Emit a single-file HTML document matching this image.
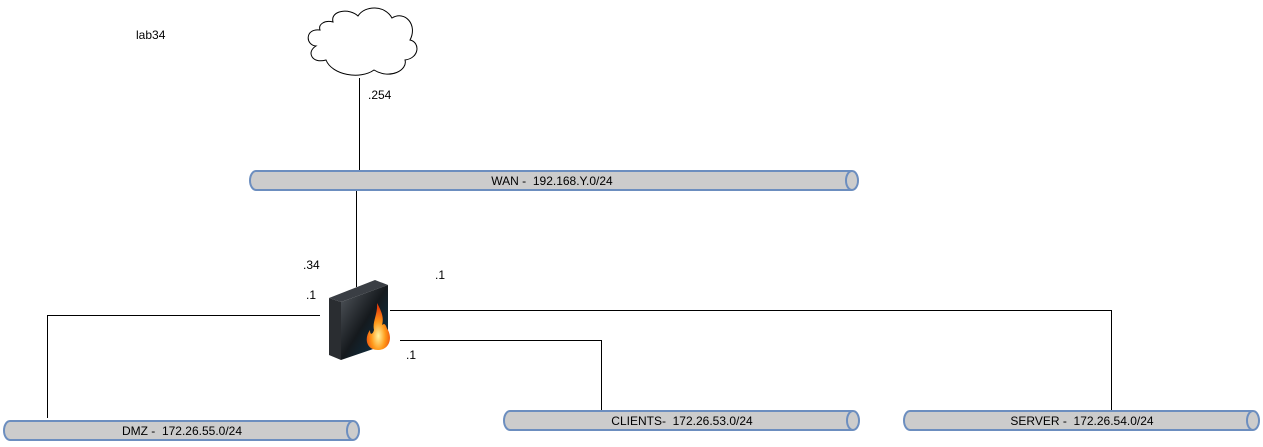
<!DOCTYPE html>
<html><head><style>
body{margin:0;background:#fff;width:1263px;height:442px;overflow:hidden}
svg text{font-family:"Liberation Sans",sans-serif;font-size:12px;fill:#000;white-space:pre}
</style></head><body>
<svg width="1263" height="442" xmlns="http://www.w3.org/2000/svg">
<defs>
<linearGradient id="fr" x1="0" y1="0" x2="1" y2="1"><stop offset="0" stop-color="#555a60"/><stop offset="0.5" stop-color="#15191d"/><stop offset="1" stop-color="#0b3a55"/></linearGradient>
<radialGradient id="fl" cx="0.5" cy="0.7" r="0.6"><stop offset="0" stop-color="#fff3a0"/><stop offset="0.5" stop-color="#ff9a1a"/><stop offset="1" stop-color="#e8400a"/></radialGradient>
</defs>
<text x="136" y="39">lab34</text>
<path d="M320,30 C305,28 305,45 316,46 C306,52 312,64 326,60 C332,75 360,80 374,70 C390,80 408,70 405,60 C420,58 420,42 410,40 C418,25 405,10 392,18 C385,5 365,5 358,16 C350,8 330,10 333,22 C325,20 318,24 320,30 Z" fill="#fff" stroke="#000" stroke-width="1"/>
<g stroke="#000" stroke-width="1" fill="none">
<line x1="359.5" y1="78" x2="359.5" y2="171"/>
<line x1="356.5" y1="190" x2="356.5" y2="287"/>
<polyline points="320,315.5 47.5,315.5 47.5,418"/>
<polyline points="390,310.5 1111.5,310.5 1111.5,410"/>
<polyline points="400,340.5 601.5,340.5 601.5,410"/>
</g>
<text x="368" y="99">.254</text>
<text x="303" y="269">.34</text>
<text x="306" y="299">.1</text>
<text x="435" y="279">.1</text>
<text x="406" y="359">.1</text>
<g fill="#cccccc" stroke="#6c8ebf" stroke-width="2">
<path d="M256,171 H852 A6,9.5 0 0 1 852,190 H256 A6,9.5 0 0 1 256,171 Z"/>
<path d="M852,171 A6,9.5 0 0 0 852,190" fill="none"/>
<path d="M10,421 H353 A6,9.5 0 0 1 353,440 H10 A6,9.5 0 0 1 10,421 Z"/>
<path d="M353,421 A6,9.5 0 0 0 353,440" fill="none"/>
<path d="M510,411 H853 A6,9.5 0 0 1 853,430 H510 A6,9.5 0 0 1 510,411 Z"/>
<path d="M853,411 A6,9.5 0 0 0 853,430" fill="none"/>
<path d="M910,411 H1253 A6,9.5 0 0 1 1253,430 H910 A6,9.5 0 0 1 910,411 Z"/>
<path d="M1253,411 A6,9.5 0 0 0 1253,430" fill="none"/>
</g>
<text x="552" y="185" text-anchor="middle">WAN -&#160; 192.168.Y.0/24</text>
<text x="182" y="435" text-anchor="middle">DMZ -&#160; 172.26.55.0/24</text>
<text x="682" y="425" text-anchor="middle">CLIENTS-&#160; 172.26.53.0/24</text>
<text x="1082" y="425" text-anchor="middle">SERVER -&#160; 172.26.54.0/24</text>
<polygon points="329,298 375,280 388,285 341,302" fill="#3a3e44"/>
<polygon points="329,298 341,302 341,360 329,355" fill="#2a2d31"/>
<polygon points="341,302 388,285 388,344 341,360" fill="url(#fr)"/>
<path d="M378,350 C366,350 364,338 370,330 C370,336 373,334 374,330 C372,322 378,314 377,303 C382,312 384,318 382,325 C386,322 386,328 388,330 C393,340 388,350 378,350 Z" fill="url(#fl)"/>
</svg>
</body></html>
